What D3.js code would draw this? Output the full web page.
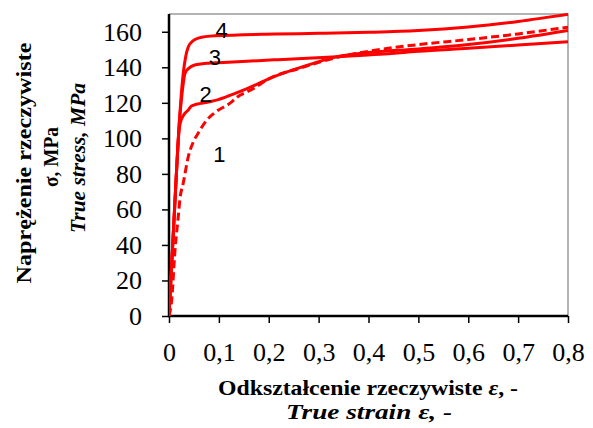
<!DOCTYPE html>
<html>
<head>
<meta charset="utf-8">
<script src="https://d3js.org/d3.v7.min.js"></script>
<style>
  body { margin: 0; background: #fff; }
  .title { font-family: "Liberation Serif", "Times New Roman", serif; font-size: 22px; font-weight: bold; fill: #000; }
  .ticklabel { font-family: "Liberation Serif", "Times New Roman", serif; font-size: 26px; font-weight: normal; fill: #000; }
  .curve-label { font-family: "Liberation Sans", Arial, sans-serif; font-size: 22px; fill: #000; }
</style>
</head>
<body>
<svg id="chart" width="593" height="428"></svg>
<script>
// true strain / true stress readings for each curve
const strain1 = [0, 0.0054, 0.012, 0.0186, 0.022, 0.0287, 0.0387, 0.0487, 0.0587, 0.075, 0.092, 0.1257, 0.1357, 0.166, 0.2, 0.2625, 0.336, 0.4, 0.5, 0.6, 0.7, 0.8];
const stress1 = [0, 9, 37, 56, 66, 75, 89.7, 98, 103, 110, 114.5, 120.5, 123, 127.5, 133.5, 139.5, 145.5, 149, 152.8, 155.6, 158.8, 162.6];

const strain2 = [0, 0.005, 0.01, 0.015, 0.02, 0.0225, 0.0287, 0.0387, 0.0455, 0.0788, 0.0988, 0.125, 0.159, 0.212, 0.27, 0.337, 0.4, 0.5, 0.6, 0.7, 0.8];
const stress2 = [0, 27, 54, 81, 104, 108.5, 112.8, 116, 118.3, 120.5, 121.8, 124.5, 128.3, 134.9, 140.5, 146, 148.3, 150.3, 152.8, 156.3, 160.7];

const strain3 = [0, 0.005, 0.01, 0.015, 0.02, 0.025, 0.0287, 0.032, 0.04, 0.0487, 0.0788, 0.1, 0.212, 0.337, 0.423, 0.5, 0.6, 0.7, 0.8];
const stress3 = [0, 27, 54, 81, 106, 122, 131, 136.5, 139.5, 141, 142.3, 142.6, 144.2, 146, 147.3, 149, 150.7, 152.5, 154.4];

const strain4 = [0, 0.005, 0.01, 0.015, 0.02, 0.025, 0.0287, 0.0335, 0.0387, 0.0487, 0.0587, 0.092, 0.212, 0.3, 0.4, 0.5, 0.6, 0.7, 0.8];
const stress4 = [0, 27, 54, 81, 106, 126, 137, 146, 151.5, 155, 156.4, 157.7, 158.7, 159.1, 159.7, 160.7, 162.7, 165.8, 169.8];

const curveNames = ["1", "2", "3", "4"];
const labelStrain = [0.101, 0.0735, 0.092, 0.1056];
const labelStress = [91, 125, 146, 161];

const xTicks = [0, 0.1, 0.2, 0.3, 0.4, 0.5, 0.6, 0.7, 0.8];
const yTicks = [0, 20, 40, 60, 80, 100, 120, 140, 160];

const svg = d3.select("#chart");
const mLeft = 169, mRight = 568, mTop = 14, mBottom = 316;

const x = d3.scaleLinear().domain([0, 0.8]).range([mLeft, mRight]);
const y = d3.scaleLinear().domain([0, 170]).range([mBottom, mTop]);

svg.append("defs").append("clipPath").attr("id", "plot")
  .append("rect").attr("x", mLeft).attr("y", mTop - 1).attr("width", mRight - mLeft + 1).attr("height", mBottom - mTop + 1);

// frame top/right
svg.append("path")
  .attr("d", `M${mLeft},${mTop}H${mRight}V${mBottom}`)
  .attr("fill", "none").attr("stroke", "#9a9a9a").attr("stroke-width", 1.5);

const fmt = d => d === 0 ? "0" : d.toFixed(1).replace(".", ",");

const xAxis = svg.append("g").attr("transform", `translate(0,${mBottom})`)
  .call(d3.axisBottom(x).tickValues(xTicks).tickFormat(fmt).tickSize(7).tickPadding(20).tickSizeOuter(0));
const yAxis = svg.append("g").attr("transform", `translate(${mLeft},0)`)
  .call(d3.axisLeft(y).tickValues(yTicks).tickSize(7).tickPadding(20).tickSizeOuter(0));
[xAxis, yAxis].forEach(a => {
  a.attr("font-family", null).attr("font-size", null);
  a.select(".domain").attr("stroke", "#000").attr("stroke-width", 2.5);
  a.selectAll(".tick line").attr("stroke", "#000").attr("stroke-width", 1.5);
  a.selectAll(".tick text").attr("class", "ticklabel");
});
yAxis.select(".domain").attr("d", `M0,${mBottom + 1}V${mTop}`);
xAxis.select(".domain").attr("d", `M${mLeft - 1},0H${mRight}`);

const series = [
  { xs: strain1, ys: stress1, dash: "8,4" },
  { xs: strain2, ys: stress2, dash: null },
  { xs: strain3, ys: stress3, dash: null },
  { xs: strain4, ys: stress4, dash: null }
];

const line = d3.line().x(d => x(d[0])).y(d => y(d[1])).curve(d3.curveMonotoneX);

const g = svg.append("g").attr("clip-path", "url(#plot)");
series.forEach(s => {
  g.append("path")
    .datum(s.xs.map((v, i) => [v, s.ys[i]]))
    .attr("d", line)
    .attr("fill", "none")
    .attr("stroke", "#ff0000")
    .attr("stroke-width", 3)
    .attr("stroke-dasharray", s.dash);
});

svg.selectAll(".curve-label").data(curveNames).enter().append("text")
  .attr("class", "curve-label")
  .attr("x", (d, i) => x(labelStrain[i]))
  .attr("y", (d, i) => y(labelStress[i]))
  .attr("text-anchor", "middle")
  .attr("dy", "0.36em")
  .text(d => d);

// x title
const xt1 = svg.append("text").attr("class", "title").attr("x", 368).attr("y", 395)
  .attr("text-anchor", "middle").attr("textLength", 300).attr("lengthAdjust", "spacingAndGlyphs");
xt1.append("tspan").text("Odkształcenie rzeczywiste ");
xt1.append("tspan").attr("font-style", "italic").text("ε");
xt1.append("tspan").text(", -");
svg.append("text").attr("class", "title").attr("x", 369).attr("y", 419).attr("text-anchor", "middle")
  .attr("textLength", 166).attr("lengthAdjust", "spacingAndGlyphs")
  .attr("font-style", "italic").text("True strain ε, -");

// y title
const yt = svg.append("g").attr("transform", "translate(0,163) rotate(-90)");
yt.append("text").attr("class", "title").attr("x", 0).attr("y", 31).attr("text-anchor", "middle")
  .attr("textLength", 241).attr("lengthAdjust", "spacingAndGlyphs")
  .text("Naprężenie rzeczywiste");
yt.append("text").attr("class", "title").attr("x", 6).attr("y", 58).attr("text-anchor", "middle")
  .attr("textLength", 60).attr("lengthAdjust", "spacingAndGlyphs")
  .text("σ, MPa");
yt.append("text").attr("class", "title").attr("x", 5).attr("y", 85).attr("text-anchor", "middle")
  .attr("textLength", 150).attr("lengthAdjust", "spacingAndGlyphs")
  .attr("font-style", "italic").text("True stress, MPa");
</script>
</body>
</html>
